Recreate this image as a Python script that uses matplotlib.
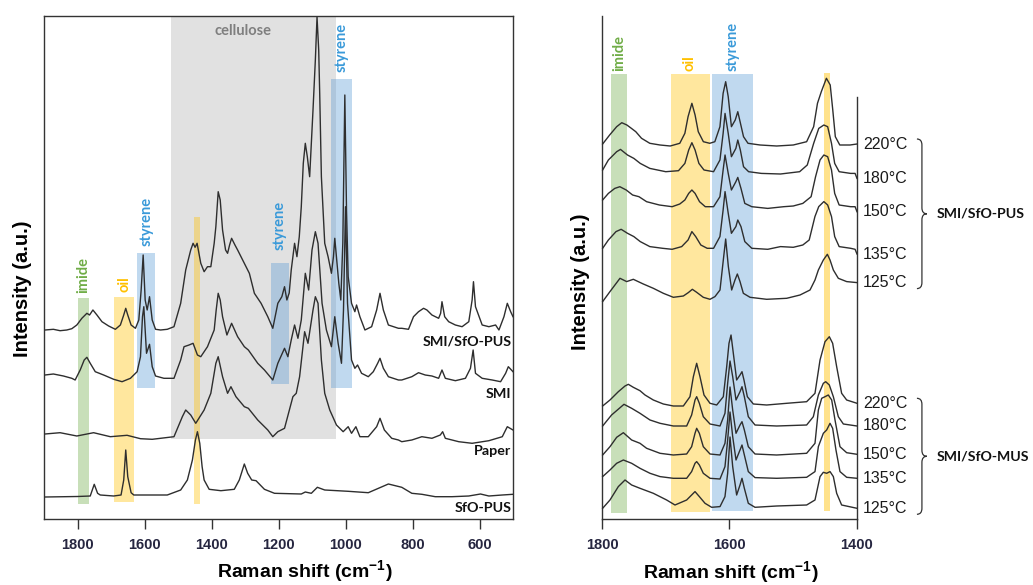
import numpy as np
import matplotlib
matplotlib.use("Agg")
import matplotlib.pyplot as plt
from matplotlib.path import Path
from matplotlib.patches import PathPatch
import matplotlib.transforms as mtransforms

# ---------------- LEFT PANEL DATA (Raman shift cm-1, intensity a.u.) ----------------
smi_sfo_pus_wn = [1897, 1872, 1852, 1832, 1817, 1802, 1787, 1772, 1764, 1754, 1742, 1727, 1707, 1687,
                  1672, 1662, 1656, 1650, 1640, 1627, 1617, 1610, 1604, 1598, 1592, 1585, 1577, 1567,
                  1552, 1532, 1512, 1492, 1477, 1462, 1455, 1449, 1443, 1432, 1422, 1412, 1402, 1392,
                  1387, 1380, 1374, 1367, 1358, 1352, 1346, 1340, 1330, 1322, 1302, 1287, 1272, 1252,
                  1232, 1217, 1202, 1190, 1182, 1175, 1168, 1162, 1152, 1145, 1138, 1132, 1126, 1120,
                  1114, 1107, 1102, 1097, 1090, 1085, 1080, 1077, 1072, 1067, 1062, 1052, 1042, 1036,
                  1032, 1027, 1020, 1014, 1008, 1002, 997, 992, 982, 972, 967, 957, 942, 922, 907, 897,
                  887, 872, 842, 832, 812, 797, 782, 767, 757, 742, 722, 716, 712, 704, 692, 672, 652,
                  632, 622, 618, 612, 592, 572, 552, 542, 527, 517, 507, 500]
smi_sfo_pus_int = [0, 0.7, -0.7, 0, 1.3, 5, 11.7, 16.7, 15, 20, 15, 8.3, 4, 0.7,
                   5, 15, 21.7, 15, 5, 1.7, 10, 40, 75, 30, 20, 33.3, 10, 0.7,
                   0, 0.7, 3.3, 26.7, 60, 80, 86.7, 82.7, 86.7, 66.7, 58.3, 63.3, 63.3, 86.7,
                   103.3, 138.3, 130, 100, 80, 76.7, 85, 91.7, 85, 80, 66.7, 56.7, 36.7, 26.7,
                   13.3, 1.7, 26.7, 33.3, 43.3, 30, 37, 60, 86.7, 73.3, 93.3, 123.3, 166.7, 186.7,
                   173.3, 153.3, 186.7, 220, 270, 313, 280, 236.7, 153.3, 120, 86.7, 73.3, 56.7, 73.3,
                   91.7, 73.3, 46.7, 30, 87, 235, 120, 53.3, 26.7, 18.3, 25, 13.3, 0, 3.3, 20, 36.7,
                   20, 5, 1.7, 1.7, 0.7, 13.3, 18.3, 21.7, 20, 15, 11.7, 16.7, 28.3, 13.3, 8.3, 5, 3.3,
                   8.3, 30, 48.3, 23.3, 5, 3.3, 5, 0, 13.3, 26.7, 18.3, 13.3]

smi_wn = [1897, 1872, 1842, 1817, 1807, 1792, 1780, 1772, 1762, 1747, 1722, 1692, 1667, 1642, 1622,
          1612, 1606, 1602, 1598, 1594, 1585, 1577, 1567, 1542, 1512, 1492, 1482, 1467, 1455, 1442,
          1432, 1412, 1392, 1386, 1380, 1374, 1367, 1354, 1340, 1322, 1302, 1290, 1262, 1242, 1217,
          1202, 1182, 1172, 1162, 1152, 1142, 1132, 1120, 1110, 1100, 1090, 1082, 1070, 1057, 1042,
          1032, 1022, 1012, 1006, 1000, 994, 982, 972, 964, 952, 932, 917, 904, 897, 887, 872, 842,
          832, 802, 782, 762, 742, 722, 712, 702, 672, 642, 627, 619, 612, 592, 562, 537, 522, 514, 500]
smi_int = [0, 1, -1, -3.3, -5, 5, 15, 17.7, 11.7, 3.3, 0, -4.3, -6.7, -3.3, 3.3,
           18.3, 58.3, 68.3, 45, 21.7, 30.7, 8.3, -1, -3.3, -3.3, 15, 28.3, 30, 31.7, 20,
           18.3, 28.3, 45, 65, 81.7, 75, 58.3, 40, 51.7, 38.3, 28.3, 25, 11.7, 5, -5,
           11.7, 26.7, 18.3, 35, 50, 36.7, 55, 101.7, 85, 125, 143.3, 131.7, 71.7, 45, 28.3,
           58.3, 31.7, 11.7, 65, 168.3, 71.7, 15, 6.7, 10, 1.7, -1.7, 3.3, 11.7, 16.7, 6.7, -1.7, -5,
           -5, -1.7, 2.3, 0, -1, -3.3, 5, -3.3, -5.7, -3.3, 6.7, 25, 1.7, -3.3, -5, -6.7, 1.7, 8.3, 3.3]

paper_wn = [1897, 1852, 1802, 1752, 1702, 1652, 1612, 1577, 1552, 1512, 1487, 1477, 1462, 1447, 1422,
            1402, 1387, 1380, 1367, 1352, 1342, 1327, 1302, 1290, 1262, 1232, 1217, 1202, 1182, 1157,
            1147, 1137, 1122, 1112, 1097, 1090, 1082, 1072, 1062, 1047, 1027, 1007, 992, 982, 969,
            957, 932, 907, 897, 884, 862, 842, 832, 802, 772, 742, 717, 710, 702, 662, 622, 572, 532,
            517, 500]
paper_int = [1, 2.3, -1, 2.3, -1.7, -0.3, -3.7, -4.3, -3.3, -1.7, 18.3, 25, 20, 11.7, 25,
             41.7, 71.7, 78.3, 58.3, 41.7, 48.3, 38.3, 28.3, 26.7, 15, 5, -1.7, 3.3, 6.7, 38.3,
             41.7, 58.3, 103.3, 91.7, 125, 138.3, 131.7, 75, 41.7, 25, 10, 3.3, 8.3, 1.7, 8.3,
             -1.7, -1.7, 8.3, 16.7, 5, -3.3, -5, -6.7, -5, -1.7, -3.3, 0, 3.3, -3.3, -6.7, -8.3, -5.7, -1.7,
             8.3, 5]

sfo_pus_wn = [1897, 1800, 1762, 1750, 1740, 1732, 1692, 1670, 1662, 1656, 1650, 1640, 1632, 1532,
              1492, 1472, 1457, 1448, 1442, 1435, 1428, 1422, 1407, 1372, 1332, 1317, 1302, 1292,
              1280, 1267, 1242, 1212, 1132, 1120, 1102, 1084, 1062, 992, 932, 872, 832, 802, 772,
              732, 682, 632, 597, 572, 532, 500]
sfo_pus_int = [0, 0.5, 1, 12.7, 3.7, 2, 1, 2, 17, 47, 20.3, 4.3, 2, 2,
               7, 17, 37, 57, 65.3, 53.7, 30.3, 17, 7.7, 6.3, 7.7, 17, 33, 23.7,
               17, 16.3, 7.7, 3.7, 3, 5, 3.7, 9.7, 7, 5.7, 4.3, 13, 9.7, 3.7, 2.7,
               0.3, 0.3, 1, 3, 1, 2, 2.7]

left_names = ["SMI/SfO-PUS", "SMI", "Paper", "SfO-PUS"]
left_offsets = [189, 144, 84, 22]

# band regions (cm-1) on left panel
left_bands = {
    "imide":     (1799, 1766),
    "oil":       (1692, 1630),
    "styrene1":  (1623, 1568),
    "cellulose": (1522, 1029),
    "oil1440":   (1452, 1435),
    "styrene2":  (1222, 1170),
    "styrene3":  (1042, 982),
}

# ---------------- RIGHT PANEL DATA ----------------
temps = ["220°C", "180°C", "150°C", "135°C", "125°C"]

pus220_wn = [1799, 1788, 1777, 1769, 1761, 1754, 1747, 1738, 1725, 1709, 1693, 1678, 1670, 1665, 1659,
             1654, 1649, 1641, 1631, 1623, 1615, 1610, 1606, 1602, 1597, 1591, 1587, 1584, 1578, 1571,
             1552, 1526, 1500, 1479, 1468, 1462, 1456, 1448, 1442, 1438, 1434, 1427, 1411, 1400]
pus220_int = [1, 10, 18.3, 22.3, 20, 16.7, 13.3, 6.7, 1.7, 0, -1, 1.7, 11.7, 28.3, 41.7,
              30, 13.3, 3.3, 1.7, 3.3, 18.3, 51.7, 63.3, 48.3, 18.3, 25, 33.3, 25, 8.3, 1.7,
              0, -1, 0, 3.3, 18.3, 41.7, 53.3, 66.7, 60, 35, 8.3, 0, 0, 1]

pus180_wn = [1799, 1790, 1777, 1771, 1760, 1750, 1740, 1725, 1700, 1680, 1670, 1664, 1659, 1654, 1648,
             1640, 1625, 1615, 1610, 1607, 1602, 1597, 1590, 1587, 1583, 1578, 1570, 1550, 1520, 1490,
             1478, 1468, 1460, 1452, 1446, 1440, 1435, 1428, 1410, 1403, 1400]
pus180_int = [1.7, 11.7, 20, 22.3, 16.7, 13.3, 8.3, 3.3, 0, 1, 8.3, 21.7, 29, 21.7, 8.3,
              1.7, 0, 11.7, 38.3, 58.3, 38.3, 15, 23.3, 31.7, 21.7, 5, 0, -1.7, -2.3, 0,
              6.7, 28.3, 43.3, 46.7, 45, 28.3, 8.3, 0, -1.7, -1.7, -6.7]

pus150_wn = [1799, 1790, 1780, 1772, 1762, 1752, 1742, 1730, 1710, 1690, 1678, 1670, 1664, 1659, 1654,
             1647, 1638, 1625, 1615, 1610, 1607, 1602, 1597, 1590, 1587, 1582, 1576, 1565, 1540, 1515,
             1500, 1485, 1472, 1465, 1458, 1452, 1446, 1440, 1435, 1428, 1410, 1403, 1400]
pus150_int = [6.7, 13.3, 18.3, 20, 16.7, 11.7, 10, 5, 1.7, 0, 2.7, 6.7, 13.3, 16.7, 13.3,
              5, 0, 0, 10, 36.7, 51.7, 33.3, 16.7, 25, 29.3, 18.3, 3.3, 0, -1.7, 0,
              0.7, 3.3, 10, 30, 46.7, 51.7, 50, 36.7, 13.3, 1.7, 0, 0, -5]

pus135_wn = [1799, 1790, 1778, 1770, 1760, 1750, 1740, 1725, 1705, 1690, 1675, 1665, 1659, 1653, 1645,
             1635, 1625, 1615, 1610, 1607, 1602, 1597, 1590, 1587, 1582, 1576, 1565, 1540, 1520, 1500,
             1485, 1475, 1466, 1460, 1452, 1446, 1440, 1435, 1428, 1410, 1403, 1400]
pus135_int = [0, 8.3, 16.7, 19, 15, 11.7, 6.7, 1.7, 0, -1, 1.7, 8.3, 16.7, 11.7, 3.3,
              0, 0, 11.7, 38.3, 56.7, 35, 15, 21.7, 28.3, 21.7, 6.7, 0, -1, 1.7, 1,
              3.3, 8.3, 31.7, 41.7, 46.7, 43.3, 31.7, 11.7, 1.7, 0, -1, -5.7]

pus125_wn = [1799, 1787.5, 1771.8, 1761.3, 1750.9, 1735.2, 1719.5, 1703.8, 1688.1, 1672.4, 1664.6,
             1658.3, 1651.5, 1641.1, 1630.6, 1622.8, 1614.9, 1609.7, 1606, 1601.8, 1596.6, 1591.4,
             1587.7, 1583.5, 1578.3, 1567.8, 1541.7, 1510.3, 1489.4, 1473.7, 1465.9, 1460.6, 1452.8,
             1446.5, 1442.3, 1437.1, 1429.3, 1416.2, 1400]
pus125_int = [-2.3, 7.7, 21, 17.7, 20, 15.3, 11, 6, 2, 3.3, 6.7,
              10, 7, 2, 0, 2.7, 9.3, 39.3, 60.3, 32.7, 9.3, 19.3,
              25.3, 17.7, 6, 2, 0, 1, 4.3, 9.3, 19.3, 29.3, 39.3,
              45, 39.3, 29.3, 21, 17.7, 16.7]

mus220_wn = [1799, 1787.5, 1774.4, 1763.9, 1758.7, 1750.9, 1740.4, 1732.5, 1719.5, 1703.8, 1688.1,
             1672.4, 1662, 1656.7, 1651.5, 1646.3, 1640, 1630.6, 1620.1, 1609.7, 1604.4, 1600.8,
             1597.6, 1594, 1588.8, 1583.5, 1580.4, 1577.3, 1572, 1562.6, 1541.7, 1510.3, 1479,
             1465.9, 1458, 1450.2, 1443.4, 1438.2, 1431.9, 1424.1, 1416.2, 1400]
mus220_int = [-1, 5, 13.3, 19, 20.7, 17.7, 14.3, 10, 5, 1, -1,
              -1, 8.3, 28.3, 41.7, 28.3, 10, 1.7, 0, 8.3, 38.3, 61.7,
              70, 51.7, 25, 30, 33.3, 25, 8.3, 1, 0, 1.7, 3.3,
              11.7, 45, 63.3, 68.3, 61.7, 38.3, 11.7, 5, 1.7]

mus180_wn = [1799, 1785, 1765.5, 1753.5, 1740.4, 1724.7, 1709, 1688.1, 1667.2, 1659.4, 1654.1, 1651.5,
             1647.3, 1641.1, 1630.6, 1614.9, 1607.1, 1602.9, 1599.2, 1595, 1589.8, 1583.5, 1580.4,
             1576.7, 1570.5, 1560, 1526, 1479, 1468.5, 1460.6, 1452.8, 1449.1, 1443.4, 1437.1,
             1429.3, 1421.4, 1400]
mus180_int = [0, 11, 21.7, 17.7, 12.7, 6, 2.7, 0, 0, 11, 26, 29.3,
              22.7, 9.3, 2, 0, 12.7, 42.7, 65, 49.3, 26, 34.3, 39.3,
              29.3, 9.3, 1, 0, 1, 9.3, 31, 42.7, 44.3, 41, 29.3,
              9.3, 2, 0]

mus150_wn = [1799, 1787.5, 1777, 1766.5, 1753.5, 1740.4, 1730, 1709, 1688.1, 1667.2, 1659.4, 1654.1,
             1651.5, 1647.3, 1641.1, 1630.6, 1614.9, 1607.1, 1602.9, 1599.2, 1595, 1589.8, 1583.5,
             1580.4, 1576.7, 1570.5, 1560, 1526, 1479, 1465.9, 1460.6, 1455.4, 1450.2, 1445, 1439.7,
             1434.5, 1426.7, 1416.2, 1400]
mus150_int = [0, 8.3, 17.7, 22.3, 15, 11.7, 6.7, 1.7, 0, 1, 8.3, 21.7,
              26.7, 21.7, 8.3, 1, 0, 11.7, 35, 68, 45, 21.7, 30,
              33.3, 25, 8.3, 1, 0, 1.7, 11.7, 45, 56.7, 58.3, 60, 55,
              35, 8.3, 2.3, 0.7]

mus135_wn = [1799, 1787.5, 1777, 1766.5, 1753.5, 1740.4, 1724.7, 1709, 1688.1, 1667.2, 1659.4, 1654.1,
             1651.5, 1647.3, 1641.1, 1630.6, 1614.9, 1607.1, 1602.9, 1599.2, 1595, 1589.8, 1583.5,
             1580.4, 1576.7, 1570.5, 1560, 1526, 1479, 1465.9, 1460.6, 1452.8, 1447.6, 1442.3, 1438.2,
             1433, 1426.7, 1416.2, 1400]
mus135_int = [1.7, 8.3, 15, 18.3, 15, 10, 5, 1.7, 0, 0, 6.7, 15,
              16.7, 13.3, 5, 0, -0.7, 11.7, 38.3, 66.3, 41.7, 18.3, 28.3,
              33.3, 23.3, 6.7, 0.7, 0, 1, 6.7, 31.7, 45, 48.3, 55, 50,
              28.3, 6.7, 1, 0]

mus125_wn = [1799, 1787.5, 1774.4, 1763.9, 1753.5, 1740.4, 1719.5, 1698.6, 1685.5, 1667.2, 1659.4,
             1654.1, 1647.3, 1638.4, 1628, 1614.9, 1607.1, 1602.9, 1599.2, 1595, 1588.8, 1583.5, 1580.4,
             1576.7, 1570.5, 1560, 1526, 1479, 1465.9, 1458, 1452.8, 1447.6, 1442.3, 1437.1, 1431.9,
             1424.1, 1400]
mus125_int = [-1, 7.3, 20.7, 27.3, 22.3, 19, 14, 7.3, 2.3, 7.3, 12.3,
              15.7, 10.7, 4, 0, 0.7, 10.7, 34, 70.3, 40.7, 12.3, 22.3, 29,
              19, 4, 0, 1.3, 2.3, 7.3, 30.7, 35, 34, 35.7, 30.7, 14,
              2.3, -1]

pus_offsets = [374, 347.3, 312.3, 270.7, 219.7]
mus_offsets = [114, 93, 64, 40.7, 11.7]

right_bands = {
    "imide":   (1786, 1761),
    "oil":     (1692, 1631),
    "styrene": (1627, 1563),
    "oil1440": (1451, 1443),
}

# ---------------- STYLE ----------------
GREEN = "#70ad47"
GOLD = "#ffc000"
BLUE = "#5b9bd5"
BLUE_TXT = "#3a9ad9"
GRAY = "#a6a6a6"
LINE = "#2e2e2e"
TICKC = "#262640"
ARIAL = "Liberation Sans"
CAL = "Lato"

fig = plt.figure(figsize=(10.33, 5.85), dpi=100)
axL = fig.add_axes([44 / 1033, 66 / 585, 469 / 1033, 503 / 585])
axR = fig.add_axes([602 / 1033, 66 / 585, 255 / 1033, 503 / 585])

YMAX = 503

# ---- left panel ----
axL.set_xlim(1900, 500)
axL.set_ylim(0, YMAX)

def band(ax, lims, y0, y1, color, alpha):
    ax.fill_between([lims[0], lims[1]], y0, y1, color=color, alpha=alpha, lw=0, zorder=1)

band(axL, left_bands["cellulose"], 80, YMAX, GRAY, 0.33)
band(axL, left_bands["imide"], 15, 221, GREEN, 0.38)
band(axL, left_bands["oil"], 17, 222, GOLD, 0.38)
band(axL, left_bands["styrene1"], 131, 266, BLUE, 0.38)
band(axL, left_bands["oil1440"], 15, 302, GOLD, 0.38)
band(axL, left_bands["styrene2"], 135, 256, BLUE, 0.38)
band(axL, left_bands["styrene3"], 131, 440, BLUE, 0.38)

left_series = [(smi_sfo_pus_wn, smi_sfo_pus_int), (smi_wn, smi_int),
               (paper_wn, paper_int), (sfo_pus_wn, sfo_pus_int)]
for (wn, it), off in zip(left_series, left_offsets):
    axL.plot(wn, np.array(it) + off, color=LINE, lw=1.0, zorder=3)

left_label_y = [178, 125, 68, 11]
blendL = mtransforms.blended_transform_factory(axL.transAxes, axL.transData)
for name, ly in zip(left_names, left_label_y):
    axL.text(0.997, ly, name, transform=blendL, ha="right", va="center", fontsize=10.3,
             fontweight="bold", family=CAL, color="#111111", zorder=5)

def vlabel(ax, x, y, s, color, size=10.5):
    ax.text(x, y, s, rotation=90, ha="center", va="bottom", color=color, fontsize=size,
            fontweight="bold", family=CAL, zorder=5)

vlabel(axL, 1783, 226, "imide", GREEN)
vlabel(axL, 1661, 227, "oil", GOLD)
vlabel(axL, 1595, 273, "styrene", BLUE_TXT)
vlabel(axL, 1196, 269, "styrene", BLUE_TXT)
vlabel(axL, 1012, 447, "styrene", BLUE_TXT)
axL.text(1307, 488, "cellulose", ha="center", va="center", color="#7f7f7f", fontsize=10.5,
         fontweight="bold", family=CAL, zorder=5)

axL.set_xticks([1800, 1600, 1400, 1200, 1000, 800, 600])
axL.set_yticks([])
for s in axL.spines.values():
    s.set_color("#333333")
    s.set_linewidth(1.0)

# ---- right panel ----
axR.set_xlim(1800, 1400)
axR.set_ylim(0, YMAX)
band(axR, right_bands["imide"], 6, 445, GREEN, 0.38)
band(axR, right_bands["oil"], 7, 445, GOLD, 0.38)
band(axR, right_bands["styrene"], 8, 445, BLUE, 0.38)
band(axR, right_bands["oil1440"], 8, 446, GOLD, 0.45)

pus_series = [(pus220_wn, pus220_int), (pus180_wn, pus180_int), (pus150_wn, pus150_int),
              (pus135_wn, pus135_int), (pus125_wn, pus125_int)]
mus_series = [(mus220_wn, mus220_int), (mus180_wn, mus180_int), (mus150_wn, mus150_int),
              (mus135_wn, mus135_int), (mus125_wn, mus125_int)]

blend = mtransforms.blended_transform_factory(axR.transAxes, axR.transData)

def draw_group(series, offsets, group_name):
    ends = []
    for (wn, it), off, t in zip(series, offsets, temps):
        y = np.array(it) + off
        axR.plot(wn, y, color=LINE, lw=1.0, zorder=3, clip_on=False)
        ends.append(y[-1])
        axR.text(1.024, y[-1], t, transform=blend, ha="left", va="center", fontsize=11.5,
                 family=ARIAL, color="#1a1a1a")
    ytop = max(ends) + 5
    ybot = min(ends) - 6
    ym = (ytop + ybot) / 2
    x0, h, d = 1.235, 0.0196, 6
    verts = [(x0, ytop), (x0 + h, ytop), (x0 + h, ytop - d),
             (x0 + h, ym + d),
             (x0 + h, ym), (x0 + 2 * h, ym),
             (x0 + h, ym), (x0 + h, ym - d),
             (x0 + h, ybot + d),
             (x0 + h, ybot), (x0, ybot)]
    codes = [Path.MOVETO, Path.CURVE3, Path.CURVE3, Path.LINETO, Path.CURVE3, Path.CURVE3,
             Path.CURVE3, Path.CURVE3, Path.LINETO, Path.CURVE3, Path.CURVE3]
    axR.add_patch(PathPatch(Path(verts, codes), transform=blend, fill=False, lw=0.9,
                            edgecolor="#333333", clip_on=False))
    axR.text(x0 + 0.078, ym, group_name, transform=blend, ha="left", va="center", fontsize=10.2,
             fontweight="bold", family=CAL, color="#111111")

draw_group(pus_series, pus_offsets, "SMI/SfO-PUS")
draw_group(mus_series, mus_offsets, "SMI/SfO-MUS")

vlabel(axR, 1773, 448, "imide", GREEN)
vlabel(axR, 1662, 448, "oil", GOLD)
vlabel(axR, 1595, 448, "styrene", BLUE_TXT)

axR.set_xticks([1800, 1600, 1400])
axR.set_yticks([])
axR.spines["top"].set_visible(False)
axR.spines["right"].set_bounds(0, 422)
for s in axR.spines.values():
    s.set_color("#333333")
    s.set_linewidth(1.0)

for ax in (axL, axR):
    ax.tick_params(axis="x", direction="out", length=7, width=1.0, color="#333333",
                   labelsize=10.5, labelcolor=TICKC, pad=7)
    for lab in ax.get_xticklabels():
        lab.set_family(ARIAL)
        lab.set_fontweight("bold")
    ax.set_xlabel("Raman shift (cm$^{\\mathregular{-1}}$)", fontsize=14, fontweight="bold",
                  family=ARIAL, color="#000000", va="center")
    ax.set_ylabel("Intensity (a.u.)", fontsize=14.5, fontweight="bold", family=ARIAL, color="#000000")

axL.xaxis.set_label_coords(0.556, -0.104)
axR.xaxis.set_label_coords(0.504, -0.107)
axL.yaxis.set_label_coords(-0.026, 0.457)
axR.yaxis.set_label_coords(-0.047, 0.471)

fig.savefig("out.png", dpi=100)
